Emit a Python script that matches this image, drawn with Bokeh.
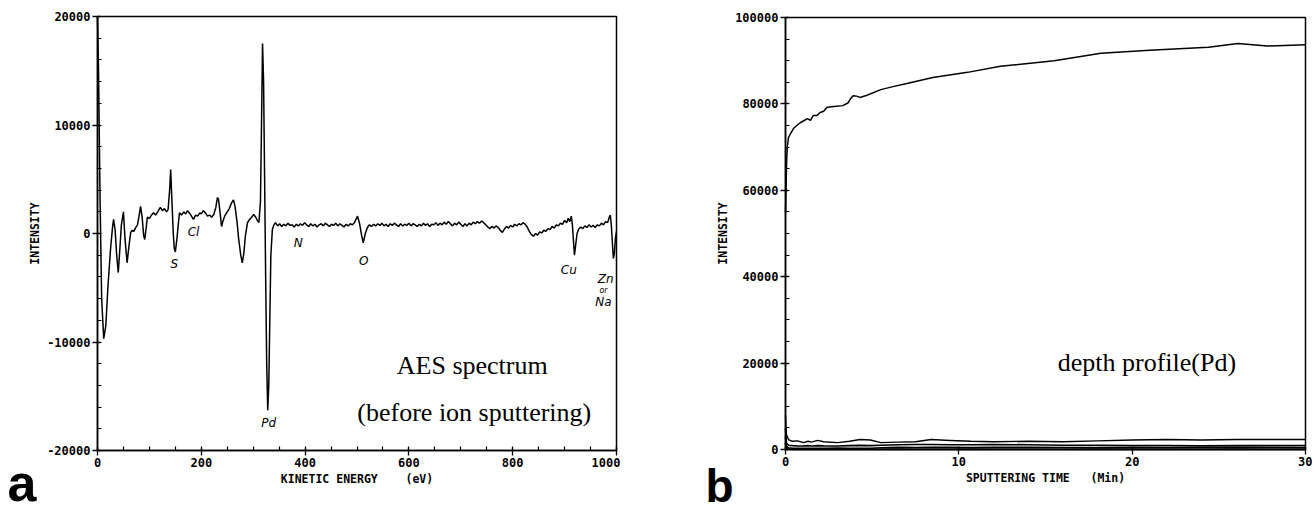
from bokeh.plotting import figure
from bokeh.layouts import row
from bokeh.models import Range1d, SingleIntervalTicker
from bokeh.embed import file_html
from bokeh.resources import INLINE
from bokeh.core.properties import value

# ---------------- data: panel a (AES spectrum) ----------------
aes_energy_ev = [
    0, 2, 5, 8, 12, 16, 20, 25, 29, 31,
    34, 37, 40, 43, 46, 50, 53, 57, 61, 64,
    67, 70, 73, 77, 80, 83, 86, 89, 91, 94,
    96, 100, 104, 108, 112, 116, 121, 125, 129, 133,
    136, 139, 141, 143, 146, 148, 150, 153, 156, 158,
    162, 166, 170, 173, 177, 181, 185, 189, 193, 197,
    200, 204, 208, 212, 216, 220, 224, 228, 231, 233,
    236, 239, 242, 246, 250, 254, 258, 262, 265, 269,
    272, 276, 279, 282, 285, 289, 293, 297, 301, 305,
    308, 311, 314, 316, 318, 320, 322, 324, 326, 328,
    330, 332, 334, 337, 340, 343, 347,
    351, 355, 359, 363, 367, 371, 375, 379, 383, 387,
    391, 395, 399, 403, 407, 411, 415, 419, 423, 427,
    431, 435, 439, 443, 447, 451, 455, 459, 463, 467,
    471, 475, 479, 483, 487, 491, 495, 498, 501, 505,
    509, 512, 516, 520, 524, 528, 532, 536, 540, 544,
    548, 552, 556, 560, 564, 568, 572, 576, 580, 584,
    588, 592, 596, 600, 604, 608, 612, 616, 620, 624,
    628, 632, 636, 640, 644, 648, 652, 656, 660, 664,
    668, 672, 676, 680, 684, 688, 692, 696, 700, 704,
    708, 712, 716, 720, 724, 728, 732, 736, 740, 744,
    748, 752, 756, 760, 764, 768, 772, 776, 780, 784,
    788, 792, 796, 800, 804, 808, 812, 816, 820, 824,
    828, 832, 836, 840, 844, 848, 852, 856, 860, 864,
    868, 872, 876, 880, 884, 888, 892, 896, 900, 904,
    907, 910, 913, 915, 917, 919, 921, 924, 927, 931,
    935, 939, 943, 947, 951, 955, 959, 963, 967, 971,
    975, 979, 983, 986, 988, 990, 992, 994, 996, 998,
    1000,
]
aes_intensity = [
    20000, 15000, 3000, -6000, -9700, -8500, -5000, -1500, 600, 1300,
    300, -2000, -3600, -1500, 800, 2000, -500, -2700, -1000, 100,
    300, 200, 500, 800, 1600, 2500, 1500, -200, -550, 600,
    1500, 1400, 1700, 1900, 1700, 2000, 2400, 2100, 2300, 2000,
    2200, 4000, 5900, 3500, 0, -1400, -1700, -500, 1000, 1900,
    1700, 2000, 1800, 2100, 1900, 1600, 1300, 1700, 1600, 1900,
    1800, 2100, 1900, 1600, 1700, 1500, 1750, 2400, 3300, 3200,
    2000, 650, 1200, 1700, 2000, 2300, 2800, 3100, 2500, 1000,
    -500, -2000, -2700, -1800, -200, 1000, 1300, 1500, 1750, 1500,
    1200, 1000, 3000, 10000, 17500, 14000, 5000, -4000, -12000, -16300,
    -14000, -8000, -2000, 400, 800, 1000, 700,
    900, 650, 850, 700, 950, 750, 800, 600, 850, 700,
    900, 750, 1000, 800, 650, 900, 700, 850, 600, 800,
    900, 700, 950, 800, 650, 850, 750, 950, 700, 900,
    750, 600, 850, 700, 900, 800, 1000, 1300, 1600, 900,
    -200, -850, 0, 550, 800, 650, 850, 700, 900, 750,
    950, 700, 850, 650, 900, 750, 950, 800, 650, 900,
    700, 850, 750, 950, 700, 900, 800, 650, 850, 700,
    950, 750, 900, 650, 850, 800, 1000, 750, 950, 800,
    1050, 850, 1100, 900, 700, 950, 800, 1050, 850, 650,
    900, 700, 950, 800, 1050, 900, 1100, 950, 1150, 1000,
    800, 600, 450, 650, 500, 700, 550, 300, 100, 400,
    650, 500, 750, 600, 850, 700, 900, 800, 1000, 850,
    600, 200, -100, -250, 0, -150, 150, 50, 300, 200,
    450, 350, 650, 500, 800, 700, 950, 850, 1200, 1000,
    1400, 1100, 1600, 800, -600, -2000, -1200, 0, 400, 600,
    450, 700, 550, 800, 600, 750, 550, 800, 700, 950,
    800, 1100, 1000, 1500, 1700, 800, -800, -2300, -1800, -400,
    200,
]
assert len(aes_energy_ev) == len(aes_intensity)

aes_xlim = [0, 1000]
aes_ylim = [-20000, 20000]
aes_yticks = [-20000, -10000, 0, 10000, 20000]
aes_ytick_labels = ["-20000", "-10000", "0", "10000", "20000"]
aes_xticks = [0, 200, 400, 600, 800, 1000]
aes_xtick_labels = ["0", "200", "400", "600", "800", "1000"]

peak_labels = ["S", "Cl", "Pd", "N", "O", "Cu", "Zn", "Na"]
peak_label_x = [148, 185, 330, 387, 513, 908, 979, 975]
peak_label_y = [-2800, 100, -17500, -900, -2500, -3400, -4150, -6270]

# ---------------- data: panel b (depth profile) ----------------
pd_time_min = [0, 0.03, 0.06, 0.1, 0.17, 0.3, 0.46, 0.65, 0.87, 1.05,
               1.27, 1.44, 1.6, 1.8, 2.0, 2.2, 2.4, 2.8, 3.3, 3.6,
               3.75, 3.9, 4.1, 4.3, 4.7, 5.5, 6.2, 7.0, 8.5, 10.5,
               12.4, 15.5, 18.2, 21.0, 24.4, 26.1, 27.8, 30]
pd_intensity = [54600, 60000, 66000, 69900, 72200, 73200, 74300, 75000, 75700, 76100,
                76600, 76200, 77300, 77300, 78000, 78300, 79200, 79400, 79600, 80200,
                81200, 81900, 81800, 81500, 82000, 83300, 84000, 84700, 86100, 87300,
                88700, 90000, 91700, 92400, 93100, 94000, 93400, 93700]
assert len(pd_time_min) == len(pd_intensity)

low_time_min = [0, 0.05, 0.17, 0.4, 0.7, 1.04, 1.3, 1.5, 1.85, 2.2,
                3.0, 3.7, 4.3, 4.9, 5.5, 6.5, 7.5, 8.4, 9.5, 10.7,
                12, 14, 16, 18, 20, 22, 24, 26, 28, 30]
low_a = [8000, 3500, 2300, 1900, 2000, 1600, 1900, 1700, 2100, 1800,
         1600, 1900, 2300, 2200, 1600, 1700, 1800, 2300, 2100, 1900,
         1800, 1900, 1800, 2000, 2200, 2300, 2200, 2300, 2300, 2300]
low_b = [5000, 1500, 1000, 900, 800, 850, 900, 800, 900, 850,
         800, 900, 950, 900, 1000, 1100, 1150, 1150, 1100, 1100,
         1150, 1100, 1000, 950, 900, 900, 850, 900, 900, 900]
low_c = [3000, 800, 400, 300, 250, 300, 250, 300, 250, 300,
         350, 300, 250, 300, 400, 500, 450, 500, 500, 450,
         500, 500, 450, 400, 450, 400, 450, 500, 450, 400]
low_d = [1500, 200, 100, 50, 30, 40, 30, 50, 40, 30,
         50, 40, 30, 50, 40, 60, 50, 40, 50, 60,
         50, 40, 50, 60, 50, 40, 50, 60, 50, 50]

dp_xlim = [0, 30]
dp_ylim = [0, 100000]
dp_yticks = [0, 20000, 40000, 60000, 80000, 100000]
dp_ytick_labels = ["0", "20000", "40000", "60000", "80000", "100000"]
dp_xticks = [0, 10, 20, 30]
dp_xtick_labels = ["0", "10", "20", "30"]

# ---------------- layout (page pixels) ----------------
ORIGIN = 0
H = 512
A_LEFT, A_W = ORIGIN, 620
B_LEFT, B_W = ORIGIN + 620, 692
A_BOX = dict(left=97, right=616, top=16, bottom=450)
B_BOX = dict(left=785, right=1305, top=17, bottom=449)

MONO = "DejaVu Sans Mono"
SERIF = "Liberation Serif"
HAND = "DejaVu Sans"


def make_ranges(canvas_left, width, box, xlim, ylim):
    sx = (xlim[1] - xlim[0]) / (box["right"] - box["left"])
    sy = (ylim[1] - ylim[0]) / (box["bottom"] - box["top"])
    x0 = xlim[0] + (canvas_left - box["left"]) * sx
    x1 = xlim[0] + (canvas_left + width - box["left"]) * sx
    y1 = ylim[1] + (box["top"] - ORIGIN) * sy
    y0 = ylim[0] - (ORIGIN + H - box["bottom"]) * sy
    return Range1d(x0, x1), Range1d(y0, y1), sx, sy


def make_panel(canvas_left, width, box, xlim, ylim, xint, xminor, yint, yminor,
               xticks, xlabels, yticks, ylabels, xtitle, ytitle):
    xr, yr, sx, sy = make_ranges(canvas_left, width, box, xlim, ylim)
    p = figure(width=width, height=H, x_range=xr, y_range=yr,
               output_backend="svg", toolbar_location=None,
               min_border=0, min_border_left=0, min_border_right=0,
               min_border_top=0, min_border_bottom=0)
    p.xgrid.visible = False
    p.ygrid.visible = False
    p.outline_line_color = None
    p.background_fill_color = "white"
    p.border_fill_color = "white"
    p.xaxis.ticker = SingleIntervalTicker(interval=xint, num_minor_ticks=xminor)
    p.yaxis.ticker = SingleIntervalTicker(interval=yint, num_minor_ticks=yminor)
    p.xaxis.fixed_location = ylim[0]
    p.yaxis.fixed_location = xlim[0]
    p.xaxis.bounds = (xlim[0], xlim[1])
    p.yaxis.bounds = (ylim[0], ylim[1])
    p.xaxis.major_label_overrides = dict(zip(xticks, xlabels))
    p.yaxis.major_label_overrides = dict(zip(yticks, ylabels))
    p.xaxis.axis_label = xtitle
    p.yaxis.axis_label = ytitle
    for ax in (p.xaxis[0], p.yaxis[0]):
        ax.axis_line_color = "black"
        ax.axis_line_width = 1.5
        ax.major_tick_line_color = "black"
        ax.major_tick_line_width = 1.3
        ax.minor_tick_line_color = "black"
        ax.minor_tick_line_width = 1.2
        ax.major_tick_out = 5
        ax.major_tick_in = 3
        ax.minor_tick_out = 0
        ax.minor_tick_in = 4
        ax.major_label_text_font = MONO
        ax.major_label_text_font_style = "bold"
        ax.major_label_text_font_size = "12px"
        ax.major_label_text_color = "black"
        ax.major_label_standoff = 2
        ax.axis_label_text_font = MONO
        ax.axis_label_text_font_style = "bold"
        ax.axis_label_text_font_size = "11.5px"
        ax.axis_label_text_color = "black"
        ax.axis_label_standoff = 2
    # plot box (top and right edges; left/bottom coincide with the axes)
    p.quad(left=[xlim[0]], right=[xlim[1]], bottom=[ylim[0]], top=[ylim[1]],
           fill_color=None, line_color="black", line_width=1.5)
    return p, sx, sy


def page_to_data(px, py, box, xlim, ylim, sx, sy):
    return xlim[0] + (px - box["left"]) * sx, ylim[0] - (py - box["bottom"]) * sy


# ---------------- panel a ----------------
pa, a_sx, a_sy = make_panel(A_LEFT, A_W, A_BOX, aes_xlim, aes_ylim, 200, 4, 10000, 5,
                            aes_xticks, aes_xtick_labels, aes_yticks, aes_ytick_labels,
                            "KINETIC ENERGY\u00a0\u00a0\u00a0 (eV)", "INTENSITY")

pa.line(aes_energy_ev, aes_intensity, line_color="black", line_width=1.5)

pa.text(x=peak_label_x, y=peak_label_y, text=peak_labels,
        text_font=value(HAND), text_font_style="italic", text_font_size="12px",
        text_align="center", text_baseline="middle", text_color="black")
pa.text(x=[975], y=[-5250], text=["or"], text_font=value(HAND), text_font_style="italic",
        text_font_size="8px", text_align="center", text_baseline="middle", text_color="black")
pa.text(x=[722, 726], y=[-12170, -16500], text=["AES spectrum", "(before ion sputtering)"],
        text_font=value(SERIF), text_font_size="26px", text_align="center",
        text_baseline="middle", text_color="black")
# panel letter "a"
ax_, ay_ = page_to_data(7, 482, A_BOX, aes_xlim, aes_ylim, a_sx, a_sy)
pa.text(x=[ax_], y=[ay_], text=["a"],
        text_font=value("Liberation Sans"), text_font_style="bold", text_font_size="52px",
        text_align="left", text_baseline="middle", text_color="black")

# ---------------- panel b ----------------
pb, b_sx, b_sy = make_panel(B_LEFT, B_W, B_BOX, dp_xlim, dp_ylim, 10, 0, 20000, 4,
                            dp_xticks, dp_xtick_labels, dp_yticks, dp_ytick_labels,
                            "SPUTTERING TIME\u00a0\u00a0 (Min)", "INTENSITY")

pb.line(pd_time_min, pd_intensity, line_color="black", line_width=1.5)
pb.line(low_time_min, low_a, line_color="black", line_width=1.4)
pb.line(low_time_min, low_b, line_color="black", line_width=1.6)
pb.line(low_time_min, low_c, line_color="black", line_width=1.6)
pb.line(low_time_min, low_d, line_color="black", line_width=1.8)

pb.text(x=[20.85], y=[20140], text=["depth profile(Pd)"], text_font=value(SERIF),
        text_font_size="26px", text_align="center", text_baseline="middle", text_color="black")
bx_, by_ = page_to_data(705, 485, B_BOX, dp_xlim, dp_ylim, b_sx, b_sy)
pb.text(x=[bx_], y=[by_], text=["b"],
        text_font=value("Liberation Sans"), text_font_style="bold", text_font_size="46px",
        text_align="left", text_baseline="middle", text_color="black")

layout = row(pa, pb)
open("out.html", "w").write(file_html(layout, INLINE))
